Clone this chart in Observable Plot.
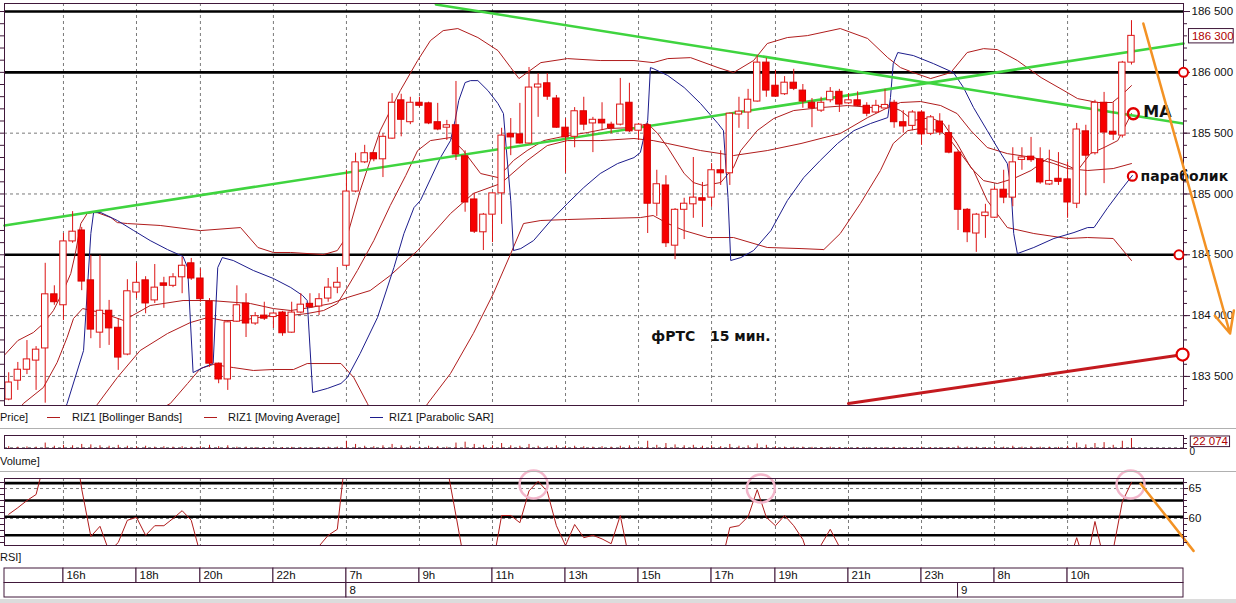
<!DOCTYPE html>
<html><head><meta charset="utf-8">
<script src="https://cdn.jsdelivr.net/npm/d3@7"></script>
<script src="https://cdn.jsdelivr.net/npm/@observablehq/plot@0.6"></script>
<style>
body{margin:0;background:#fff;}
#root{position:relative;width:1236px;height:603px;overflow:hidden;background:#fff;font-family:"Liberation Sans",Arial,sans-serif;}
#root svg{position:absolute;left:0;overflow:visible;}
.lbl{position:absolute;font-size:11px;line-height:13px;color:#111;white-space:pre;}
.dash{position:absolute;height:0;border-top:1px solid #b01c1c;width:13px;}
.sep{position:absolute;left:0;width:1236px;height:1px;background:#b4b4b4;}
</style></head><body><div id="root"></div>
<script>
// ---------- data ----------
const hourLabels = ["16h","18h","20h","22h","7h","9h","11h","13h","15h","17h","19h","21h","23h","8h","10h"];
const hourIdx    = [6,14,21,29,37,45,53,61,69,77,84,92,100,108,116];
const dateLabels = ["8","9"];
const dateIdx    = [37,104];
const priceTicks = [183500,184000,184500,185000,185500,186000,186500];
const levelLines = [186500,186000,184500];
const lastPrice  = 186300;
const lastVolume = 22074;
const rsiTicks   = [60,65];
const rsiLevels  = [65.9,63.0,60.3,57.2];

const open = [183310,183465,183555,183630,183730,184175,184085,184610,184700,184290,
183860,184040,183900,183680,184190,184290,184125,184265,184245,184315,
184430,184305,184115,183605,183475,183950,184100,183935,184000,183995,
184025,183860,184025,184090,184075,184140,184230,184410,185020,185260,
185335,185285,185455,185770,185590,185750,185745,185590,185545,185565,
185310,184955,184685,184830,185005,185495,185490,185415,185875,185910,
185785,185545,185470,185680,185580,185610,185570,185570,185750,185520,
185565,184920,185070,184575,184870,184915,184965,184970,185195,185170,
185660,185670,185760,186080,185890,185820,185915,185850,185750,185685,
185770,185840,185745,185770,185725,185670,185710,185750,185590,185560,
185670,185495,185595,185500,185340,184870,184675,184825,184805,185035,
184970,185280,185300,185285,185085,185125,185120,184920,185515,185335,
185750,185505,185480,186080];
const high = [183530,183615,183795,183745,184430,184245,184675,184855,184725,184495,
184495,184125,183975,184295,184430,184320,184420,184315,184345,184480,
184470,184385,184140,183610,183950,184245,184180,184025,184110,184025,
184035,184110,184180,184180,184180,184305,184395,185195,185335,185400,
185340,185495,185825,185820,185795,185795,185755,185745,185605,185925,
185355,185005,184840,185010,185540,185620,185745,186040,185990,185990,
185810,185620,185710,185795,185630,185750,185590,185950,185910,185580,
185580,185195,185150,184880,184965,185300,185095,185250,185355,185665,
185795,185860,186140,186115,186015,185965,186025,185900,185785,185795,
185875,185860,185825,185840,185750,185770,185860,185770,185685,185685,
185685,185645,185660,185565,185355,184880,184840,184915,185060,185195,
185380,185380,185465,185380,185360,185340,185260,185580,185565,185770,
185835,185750,186090,186425];
const low = [183300,183385,183515,183385,183280,184085,183960,184595,184205,183810,
183730,183755,183550,183670,184140,184015,184100,184060,184230,184180,
184290,184110,183575,183440,183385,183945,183820,183920,183960,183895,
183830,183855,184015,184065,184000,184110,184180,184395,185010,185250,
185265,185135,185450,185470,185570,185710,185570,185520,185440,185275,
184850,184675,184535,184600,184750,185315,185410,185410,185630,185770,
185540,185170,185380,185520,185340,185520,185495,185560,185505,185440,
184675,184815,184560,184460,184625,184800,184725,184890,185070,185070,
185540,185530,185755,185795,185795,185810,185850,185705,185545,185670,
185750,185670,185735,185720,185635,185660,185705,185540,185500,185520,
185400,185480,185480,185330,184700,184600,184520,184635,184800,184920,
184895,185195,185260,185080,185070,185070,184800,184880,184985,185320,
185085,185440,185460,186060];
const close = [183450,183555,183640,183720,184175,184110,184610,184690,184280,183885,
184040,183895,183655,184200,184270,184100,184230,184245,184315,184410,
184305,184135,183605,183475,183945,184085,183935,183995,183975,184010,
183855,184025,184090,184075,184135,184230,184270,185020,185260,185335,
185285,185470,185750,185610,185750,185725,185580,185530,185565,185325,
184930,184690,184830,185005,185480,185465,185415,185875,185900,185800,
185545,185465,185680,185570,185610,185580,185540,185735,185515,185570,
184920,185080,184595,184870,184920,184970,184945,185195,185170,185660,
185670,185775,186080,185850,185800,185915,185865,185760,185705,185750,
185840,185735,185770,185725,185660,185725,185725,185590,185555,185670,
185490,185630,185505,185340,184870,184685,184830,184840,185035,184970,
185260,185300,185285,185095,185100,185100,184930,185530,185315,185750,
185505,185495,186080,186300];

const volume = [4000,3000,3500,3000,12000,5000,7000,6000,9000,8000,
6000,5000,7000,5000,4000,5000,3000,4000,3000,4000,
3000,4000,7000,4000,6000,3000,3000,2000,2000,1500,
2000,2500,2000,1500,2000,3000,3000,16000,9000,5000,
4000,6000,9000,6000,5000,3000,5000,4000,3000,12000,
14000,9000,7000,6000,11000,6000,5000,9000,5000,4000,
6000,5000,5000,4000,3000,4000,3000,5000,6000,3000,
16000,7000,11000,8000,6000,7000,5000,6000,4000,9000,
5000,6000,10000,7000,4000,3000,3000,3000,2500,2000,
3000,2000,1500,1500,2000,1500,2000,2500,2000,1500,
3000,2000,1500,2000,5000,3000,3000,2000,4000,3000,
5000,3000,4000,3000,3000,2500,5000,12000,8000,11000,
13000,7000,16000,22074];

const rsi = [60.7,61.8,63,64,70,72,73,75,64.9,57,
58.7,54.5,56,59.7,60.2,57.2,58.8,58.8,60,61.3,
59.7,54,48,44,47,49,47,48,48,48,
46,48,50,51,55.4,57.2,58.2,72,76,77,
75,76,79,75,76,75,72,70,68.8,60.5,
52,46,48,52,60.5,60.5,59.3,64.6,66.2,64.5,
58.8,55.5,59,56.8,57.2,56.6,55.8,60.5,53,50,
38,40,36,40,42,43,43,50,52,58.5,
58.8,60.3,64.8,60.2,58.8,60.5,58.8,56.5,52,55.6,
58.2,55.3,50,48,45,46,47,44,42,43,
40,41,40,37,30,28,31,32,38,37,
43,44,44,41,42,42,52,56.8,52,59.5,
53,54.8,62.8,66];

// indicator lines: [candle index, price]
const bbUpper = [[-0.5,183672],[1.0,183795],[2.7,183861],[3.8,183935],[4.9,184042],[6.0,184206],[6.8,184346],[7.3,184510],[7.9,184757],[8.6,184839],[9.2,184847],[9.7,184847],[11.2,184806],[11.9,184765],[13.0,184757],[16.6,184741],[21.0,184699],[25.4,184724],[27.3,184560],[29.0,184519],[30.9,184519],[34.5,184502],[36.0,184535],[37.1,184658],[38.5,185028],[40.7,185521],[42.9,185850],[44.8,186097],[46.2,186261],[47.6,186343],[49.2,186360],[51.4,186286],[53.6,186179],[55.0,186039],[55.9,185949],[56.8,185998],[58.3,186080],[61.2,186113],[64.8,186097],[68.5,186097],[70.6,186080],[72.2,186113],[74.7,186121],[77.7,186039],[79.4,185998],[81.6,186097],[83.1,186237],[85.3,186286],[87.5,186302],[91.1,186360],[94.1,186278],[96.3,186121],[97.7,186039],[99.1,185998],[101.0,185949],[103.2,185998],[105.0,186163],[106.8,186195],[108.3,186187],[110.5,186097],[113.1,185957],[115.6,185850],[117.1,185784],[119.3,185752],[120.9,185752],[122.1,185826],[123.0,185891]];
const bbMiddle = [[0.7,183179],[1.6,183277],[3.8,183409],[5.3,183614],[6.4,183820],[7.1,183976],[8.1,184058],[10.1,184025],[12.6,183960],[15.5,184083],[19.1,184124],[22.1,184124],[26.5,184099],[29.0,184058],[30.9,184042],[33.1,184067],[35.3,184099],[37.1,184149],[39.6,184206],[41.8,184330],[44.8,184535],[48.4,184839],[50.9,185004],[53.9,185086],[56.8,185275],[59.0,185398],[61.2,185439],[64.8,185439],[68.5,185456],[70.6,185439],[72.2,185415],[75.8,185357],[79.4,185316],[83.1,185357],[86.8,185415],[91.1,185497],[94.1,185628],[96.3,185710],[97.7,185752],[99.9,185760],[102.1,185727],[103.9,185661],[105.4,185521],[107.2,185382],[109.4,185332],[112.3,185299],[114.5,185250],[116.0,185209],[118.2,185193],[121.0,185209],[123.0,185250]];
const bbLower = [[14.4,183138],[17.7,183277],[19.6,183442],[21.0,183565],[22.4,183598],[24.6,183573],[26.8,183549],[29.0,183557],[31.2,183557],[32.7,183606],[36.4,183606],[37.8,183491],[39.3,183277],[40.7,183055],[42.9,182890],[45.1,183179],[45.9,183277],[48.4,183524],[50.9,183853],[53.1,184182],[55.0,184510],[56.4,184757],[58.3,184782],[61.2,184790],[64.8,184798],[69.2,184806],[70.6,184823],[72.2,184757],[74.0,184699],[76.6,184642],[79.4,184642],[83.1,184560],[86.8,184551],[89.3,184543],[91.1,184675],[93.3,184921],[95.5,185193],[96.9,185415],[98.5,185521],[99.9,185538],[102.1,185521],[103.2,185439],[105.7,185193],[107.2,184946],[109.4,184724],[112.3,184675],[116.0,184634],[118.2,184642],[121.0,184634],[123.0,184453]];
const movingAvg = [[9.0,183138],[9.7,183269],[11.9,183491],[14.4,183713],[17.4,183853],[19.9,183943],[21.8,183984],[23.5,183960],[25.4,183960],[27.3,183984],[29.0,184001],[30.9,184001],[32.7,184017],[34.5,184042],[36.0,184099],[37.1,184231],[38.2,184371],[40.0,184617],[41.8,184905],[43.5,185152],[44.8,185357],[46.2,185439],[48.4,185464],[49.8,185357],[51.7,185168],[53.6,185135],[55.3,185275],[56.8,185357],[58.6,185439],[61.2,185480],[63.4,185505],[65.6,185538],[68.5,185546],[70.0,185579],[71.1,185497],[72.2,185382],[74.0,185168],[75.0,185094],[76.1,185069],[78.0,185094],[79.4,185217],[80.2,185357],[82.0,185521],[83.8,185620],[86.0,185686],[88.9,185710],[91.9,185727],[94.8,185710],[96.3,185727],[97.7,185686],[99.1,185604],[101.0,185628],[102.4,185579],[103.9,185415],[105.4,185217],[106.8,185110],[108.3,185086],[110.1,185127],[112.0,185193],[113.8,185291],[116.0,185234],[117.1,185193],[118.5,185332],[120.0,185382],[121.5,185439],[123.0,185661]];
const parabolicSar = [[5.9,183179],[6.4,183277],[8.2,183713],[9.0,184675],[9.3,184847],[10.1,184847],[11.9,184782],[13.7,184699],[15.5,184617],[17.4,184543],[19.1,184486],[19.6,184395],[20.2,183532],[21.3,183573],[22.4,183606],[22.9,184395],[23.4,184477],[24.6,184453],[26.8,184371],[29.0,184305],[30.9,184231],[32.2,184165],[32.7,184124],[33.3,183368],[34.9,183401],[36.4,183442],[37.1,183491],[38.5,183688],[40.4,183984],[42.2,184395],[43.3,184675],[44.4,184888],[45.1,184946],[47.3,185299],[48.4,185439],[48.9,185604],[49.3,185768],[50.0,185916],[50.6,185932],[51.4,185932],[52.5,185850],[53.6,185743],[54.2,185661],[54.5,185382],[55.0,184946],[55.3,184535],[56.1,184551],[57.5,184617],[59.4,184782],[61.2,184921],[63.0,185053],[64.8,185168],[66.7,185250],[68.5,185299],[69.2,185341],[70.0,185604],[70.3,186039],[70.6,186031],[72.2,185974],[74.0,185875],[75.8,185743],[77.7,185579],[78.3,185521],[78.8,184971],[79.1,184453],[80.2,184477],[81.6,184535],[83.5,184699],[85.3,184946],[87.1,185135],[88.9,185275],[90.8,185415],[92.6,185521],[94.4,185579],[96.3,185628],[96.6,185793],[96.9,186072],[97.4,186163],[99.1,186138],[101.3,186072],[103.5,185998],[104.6,185875],[105.7,185710],[107.2,185521],[108.7,185332],[109.4,185250],[109.8,185053],[110.1,184675],[110.5,184510],[112.3,184560],[114.5,184634],[116.7,184683],[118.2,184724],[118.9,184724],[120.4,184888],[121.8,185028],[123.1,185152]];

// hand-drawn annotations: [candle index, value]
const trendRising  = [[-0.46,184741],[128.7,186237]];
const trendFalling = [[46.8,186558],[128.7,185579]];
const supportLine  = [[92.0,183278],[128.7,183680]];
const forecastArrow = [[124.3,186401],[133.8,183853]];
const rsiForecast  = [[124.0,65.8],[129.8,54.6]];
const levelMarks   = [[128.7,186000],[128.2,184500]];
const supportMark  = [[128.6,183680]];
const maMark       = [[123.2,185659]];
const sarMark      = [[123.1,185146]];
const rsiCircles   = [[57.5,65.67],[82.4,65.0],[122.9,65.67]];
const notes = [
  {text:"фРТС\u00a0\u00a0\u00a015 мин.", i:70.4, v:183828, size:14},
  {text:"MA", i:124.3, v:185678, size:16},
  {text:"параболик", i:124.0, v:185146, size:14}
];

// ---------- drawing ----------
const W = 1236, X0 = -0.46, X1 = 128.7;
const frameColor = "#40183a";
const grid = {stroke:"#7a7a7a", strokeDasharray:"3,3", strokeWidth:1};
const lineRed = "#b01c1c";
const xs = {domain:[X0, X1], axis:null};
const pts = a => a.map(([i,v]) => ({i, v}));
const fmt = d => d3.format(",")(d).replace(/,/g, " ");
const fontAxis = "Liberation Sans, Arial, sans-serif";

const candles = open.map((o,i) => ({i, o, h:high[i], l:low[i], c:close[i]}));
const upC = candles.filter(d => d.c >= d.o), dnC = candles.filter(d => d.c < d.o);
const thin = d => Math.abs(d.o - d.c) < 16 ? 7 : 0;
const body = {x1: d => d.i - 0.35, x2: d => d.i + 0.35,
  y1: d => Math.max(d.o, d.c) + thin(d), y2: d => Math.min(d.o, d.c) - thin(d)};

const root = document.getElementById("root");
function place(svg, top){ svg.style.top = top + "px"; root.appendChild(svg); }

const pricePlot = Plot.plot({
  width: W, height: 408, marginLeft: 4, marginRight: 53, marginTop: 3, marginBottom: 3,
  x: xs, y: {domain:[183261, 186566], label:null},
  style: {background:"transparent", fontFamily: fontAxis, fontSize:"11.5px", color:"#111"},
  marks: [
    Plot.ruleY(priceTicks, grid),
    Plot.ruleX(hourIdx, grid),
    Plot.ruleY(levelLines, {stroke:"#000", strokeWidth:2.6}),
    Plot.line(pts(bbUpper), {x:"i", y:"v", stroke:lineRed, strokeWidth:1, clip:true}),
    Plot.line(pts(bbMiddle), {x:"i", y:"v", stroke:lineRed, strokeWidth:1, clip:true}),
    Plot.line(pts(bbLower), {x:"i", y:"v", stroke:lineRed, strokeWidth:1, clip:true}),
    Plot.line(pts(movingAvg), {x:"i", y:"v", stroke:lineRed, strokeWidth:1, clip:true}),
    Plot.line(pts(parabolicSar), {x:"i", y:"v", stroke:"#1c1c8c", strokeWidth:1, clip:true}),
    Plot.line(pts(trendRising), {x:"i", y:"v", stroke:"#3fd43f", strokeWidth:2.6}),
    Plot.line(pts(trendFalling), {x:"i", y:"v", stroke:"#3fd43f", strokeWidth:2.6, clip:true}),
    Plot.line(pts(supportLine), {x:"i", y:"v", stroke:"#c41a1f", strokeWidth:3}),
    Plot.ruleX(candles, {x:"i", y1:"l", y2:"h", stroke:"#dc1414", strokeWidth:1}),
    Plot.rect(upC, {...body, fill:"white", stroke:"#dc1414", strokeWidth:1}),
    Plot.rect(dnC, {...body, fill:"#f70000", stroke:"#d40000", strokeWidth:1}),
    Plot.frame({stroke: frameColor}),
    Plot.axisY(d3.range(183300, 186600, 100), {anchor:"right", tickSize:3, tickFormat:() => "", label:null, stroke:frameColor}),
    Plot.axisY(priceTicks, {anchor:"right", tickSize:6, tickPadding:2, tickFormat:fmt, label:null, stroke:frameColor, fontSize:11.5}),
    Plot.axisY(d3.range(183300, 186600, 100), {anchor:"left", tickSize:4, tickFormat:() => "", label:null, stroke:frameColor}),
    Plot.rect([lastPrice], {x1:129.3, x2:134.2, y1:d => d - 62, y2:d => d + 56, fill:"white", stroke:frameColor}),
    Plot.text([lastPrice], {x:129.3, y:d => d, text:fmt, dx:3, textAnchor:"start", fill:"#b00000", fontSize:11.5}),
    Plot.dot(pts(levelMarks), {x:"i", y:"v", r:4.5, stroke:"#e00000", strokeWidth:2, fill:"white"}),
    Plot.dot(pts(supportMark), {x:"i", y:"v", r:6, stroke:"#e00000", strokeWidth:2.2, fill:"white"}),
    Plot.dot(pts(maMark), {x:"i", y:"v", r:5.5, stroke:"#e00000", strokeWidth:2.4, fill:"none"}),
    Plot.dot(pts(sarMark), {x:"i", y:"v", r:4.5, stroke:"#e00000", strokeWidth:2.2, fill:"none"}),
    Plot.text(notes, {x:"i", y:"v", text:"text", textAnchor:"start", fontFamily:"DejaVu Sans, sans-serif", fontWeight:"bold", fontSize:d => d.size, fill:"#111"}),
    Plot.arrow([forecastArrow], {x1:d => d[0][0], y1:d => d[0][1], x2:d => d[1][0], y2:d => d[1][1], stroke:"#f39224", strokeWidth:2.5, headLength:14, headAngle:50})
  ]
});
place(pricePlot, 0);

const volPlot = Plot.plot({
  width: W, height: 19, marginLeft: 4, marginRight: 53, marginTop: 3, marginBottom: 3,
  x: xs, y: {domain:[0, 28700], label:null},
  style: {background:"transparent", fontFamily: fontAxis, fontSize:"11px"},
  marks: [
    Plot.ruleX(hourIdx, grid),
    Plot.ruleY([1800], grid),
    Plot.ruleX(volume.map((v,i) => ({i, v})), {x:"i", y1:0, y2:"v", stroke:"#c01818", strokeWidth:1}),
    Plot.frame({stroke: frameColor}),
    Plot.axisY([0, 11000, lastVolume], {anchor:"right", tickSize:3, tickFormat:() => "", label:null, stroke:frameColor}),
    Plot.text([0], {x:X1, y:d => d, text:d => String(d), dx:6, dy:3, textAnchor:"start", fill:"#111", fontSize:10}),
    Plot.rect([lastVolume], {x1:129.5, x2:133.8, y1:d => d - 19000, y2:d => d + 4500, fill:"white", stroke:frameColor}),
    Plot.text([lastVolume], {x:129.5, y:d => d - 7000, text:fmt, dx:2, textAnchor:"start", fill:"#b00000", fontSize:11.5})
  ]
});
place(volPlot, 432);

const rsiPlot = Plot.plot({
  width: W, height: 73, marginLeft: 4, marginRight: 53, marginTop: 3, marginBottom: 3,
  x: xs, y: {domain:[55.5, 66.67], label:null},
  style: {background:"transparent", fontFamily: fontAxis, fontSize:"11.5px", color:"#111"},
  marks: [
    Plot.ruleX(hourIdx, grid),
    Plot.ruleY(rsiTicks, grid),
    Plot.ruleY(rsiLevels, {stroke:"#000", strokeWidth:2.6}),
    Plot.line(rsi.map((v,i) => ({i, v})), {x:"i", y:"v", stroke:lineRed, strokeWidth:1, clip:true}),
    Plot.dot(pts(rsiCircles), {x:"i", y:"v", r:14, stroke:"#f3b6cb", strokeWidth:2.5, fill:"none"}),
    Plot.line(pts(rsiForecast), {x:"i", y:"v", stroke:"#f39224", strokeWidth:2.5}),
    Plot.frame({stroke: frameColor}),
    Plot.axisY(d3.range(56, 67, 1), {anchor:"right", tickSize:3, tickFormat:() => "", label:null, stroke:frameColor}),
    Plot.axisY(rsiTicks, {anchor:"right", tickSize:4, tickPadding:1, label:null, stroke:frameColor, fontSize:11.5}),
    Plot.axisY(d3.range(56, 67, 1), {anchor:"left", tickSize:4, tickFormat:() => "", label:null, stroke:frameColor})
  ]
});
place(rsiPlot, 475);

const hb = [X0, ...hourIdx, X1];
const hourCells = hb.slice(0, -1).map((x1, k) => ({x1, x2: hb[k+1], label: k === 0 ? "" : hourLabels[k-1]}));
const db = [X0, ...dateIdx, X1];
const dateCells = db.slice(0, -1).map((x1, k) => ({x1, x2: db[k+1], label: k === 0 ? "" : dateLabels[k-1]}));
const timePlot = Plot.plot({
  width: W, height: 33, marginLeft: 4, marginRight: 53, marginTop: 2, marginBottom: 2,
  x: xs, y: {domain:[2, 0], axis:null},
  style: {background:"transparent", fontFamily: fontAxis, fontSize:"11.5px"},
  marks: [
    Plot.rect(hourCells, {x1:"x1", x2:"x2", y1:0, y2:1, fill:"white", stroke:frameColor}),
    Plot.rect(dateCells, {x1:"x1", x2:"x2", y1:1, y2:2, fill:"white", stroke:frameColor}),
    Plot.text(hourCells, {x:"x1", y:0.5, text:"label", dx:3, textAnchor:"start", fill:"#111"}),
    Plot.text(dateCells, {x:"x1", y:1.5, text:"label", dx:3, textAnchor:"start", fill:"#111"})
  ]
});
place(timePlot, 566);

// ---------- HTML labels / legend ----------
function lbl(text, left, top){ const d = document.createElement("div"); d.className = "lbl"; d.textContent = text; d.style.left = left + "px"; d.style.top = top + "px"; root.appendChild(d); }
function dash(left, top, color){ const d = document.createElement("div"); d.className = "dash"; d.style.left = left + "px"; d.style.top = top + "px"; d.style.borderTopColor = color; root.appendChild(d); }
function sep(top, h, c){ const d = document.createElement("div"); d.className = "sep"; d.style.top = top + "px"; d.style.height = h + "px"; d.style.background = c; root.appendChild(d); }
lbl("Price]", 0, 411);
dash(47, 417, lineRed); lbl("RIZ1 [Bollinger Bands]", 72, 411);
dash(204, 417, lineRed); lbl("RIZ1 [Moving Average]", 228, 411);
dash(370, 417, "#1c1c8c"); lbl("RIZ1 [Parabolic SAR]", 389, 411);
sep(428, 1, "#b0b0b0");
lbl("Volume]", 0, 455);
sep(471, 1, "#b0b0b0");
lbl("RSI]", 0, 551);
sep(599, 4, "#dcdcdc");
</script></body></html>
